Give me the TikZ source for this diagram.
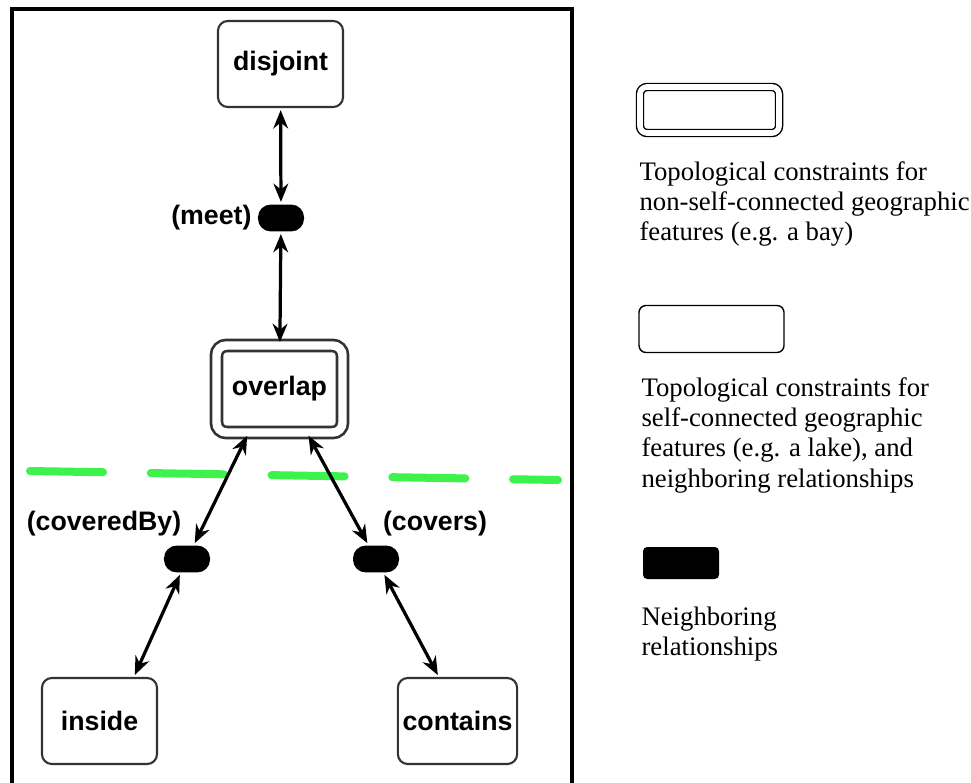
\documentclass[tikz,border=0pt]{standalone}
\usepackage{fontspec}
\setmainfont{Liberation Serif}
\setsansfont{Liberation Sans}
\usetikzlibrary{arrows.meta}
\definecolor{dashgreen}{RGB}{60,242,75}

\begin{document}
\begin{tikzpicture}[x=0.025cm, y=-0.025cm, thick,
	rel/.style = {draw=black!80, line width=1.5pt, rounded corners=7pt, fill=white, minimum height=2.15cm, font=\sffamily\bfseries\fontsize{19}{23}\selectfont},
	dbl/.style = {rel, double, double distance=6pt, line width=1.9pt},
	nb/.style = {fill=black, rounded corners=9pt, minimum width=1.15cm, minimum height=0.67cm, inner sep=0pt},
	lbl/.style = {font=\sffamily\bfseries\fontsize{19}{23}\selectfont, inner sep=0pt},
	link/.style = {{Stealth[length=13pt,width=10.5pt]}-{Stealth[length=13pt,width=10.5pt]}, line width=2.3pt, shorten <=1.5pt, shorten >=1.5pt},
	key/.style = {draw, line width=1pt, rounded corners=5pt, minimum width=3.625cm, minimum height=1.175cm},
	note/.style = {anchor=north west, align=left, inner sep=0pt, font=\fontsize{19}{21.5}\selectfont}]

	\useasboundingbox (0,0) rectangle (971,782);
	\draw[line width=2.6pt] (12,790) -- (12,9) -- (572,9) -- (572,790);

	\node[rel, minimum width=3.125cm] (disjoint) at (280.5,64) {disjoint};
	\node[nb] (meet) at (281,218) {};
	\node[dbl, minimum width=3.15cm, minimum height=2.175cm] (overlap) at (279.5,389) {overlap};
	\node[nb] (coveredby) at (187,559) {};
	\node[nb] (covers) at (376,559) {};
	\node[rel, minimum width=2.875cm] (inside) at (99.5,721) {inside};
	\node[rel, minimum width=2.975cm] (contains) at (457.5,721) {contains};

	\node[lbl, anchor=east] (meetlbl) at (252,218) {(meet)};
	\node[lbl] (coveredbylbl) at (104,524) {(coveredBy)};
	\node[lbl] (coverslbl) at (435,524) {(covers)};

	\draw[dashgreen, line width=0.2cm, line cap=round, dash pattern=on 1.825cm off 1.194cm] (30,471) -- (558,480);

	\draw[link] (disjoint) to (meet);
	\draw[link] (meet) to (overlap);
	\draw[link] (overlap.235) to (coveredby);
	\draw[link] (overlap.302) to (covers);
	\draw[link] (coveredby) to (inside.52);
	\draw[link] (covers) to (contains.113);

	% legend
	\node[key, double, double distance=4pt, minimum width=3.475cm, minimum height=1.15cm] (keybay) at (709.5,110) {};
	\node[note] (notebay) at (639,161) {Topological constraints for\\non-self-connected geographic\\features (e.g. a bay)};
	\node[key] (keylake) at (711.5,329) {};
	\node[note] (notelake) at (641,377) {Topological constraints for\\self-connected geographic\\features (e.g. a lake), and\\neighboring relationships};
	\node[fill=black, rounded corners=3pt, minimum width=1.9cm, minimum height=0.8cm] (keynb) at (681,563) {};
	\node[note] (notenb) at (641,606) {Neighboring\\relationships};

\end{tikzpicture}
\end{document}
